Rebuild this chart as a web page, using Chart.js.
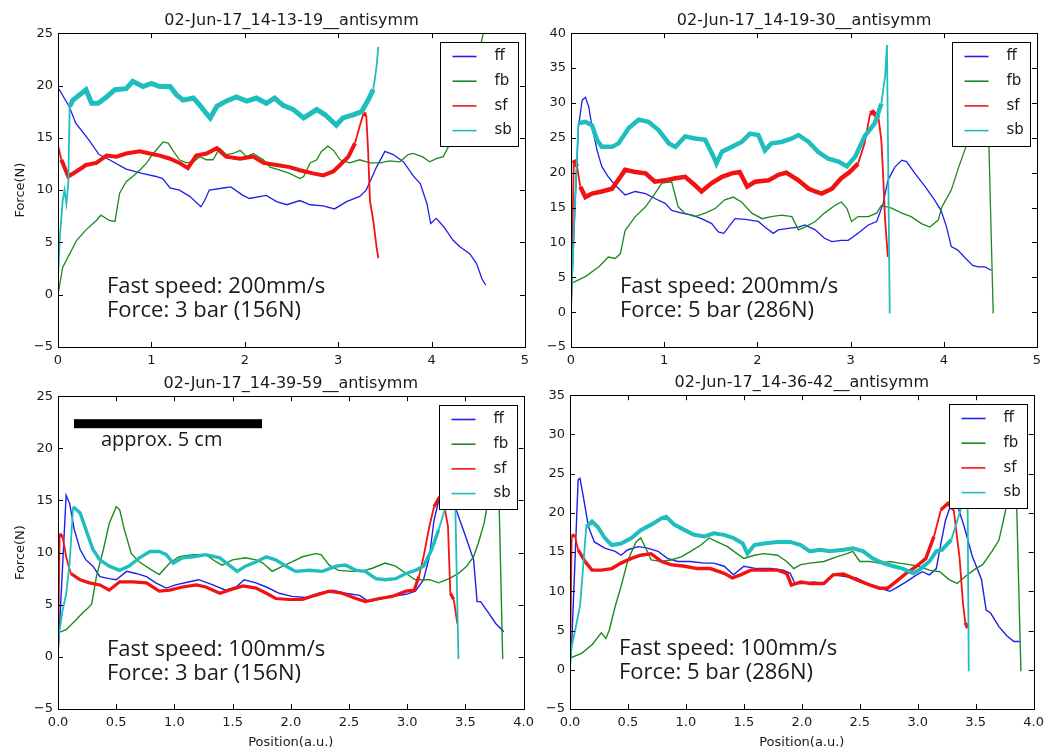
<!DOCTYPE html>
<html>
<head>
<meta charset="utf-8">
<title>antisymm</title>
<script src="https://cdn.jsdelivr.net/npm/chart.js@4.4.1/dist/chart.umd.min.js"></script>
<style>
    html, body { margin: 0; padding: 0; background: #fff; }
    body { width: 1050px; height: 752px; position: relative; overflow: hidden; }
    canvas { position: absolute; }
</style>
</head>
<body>
<canvas id="graficoTL" width="540" height="370" style="left:0;top:0"></canvas>
<canvas id="graficoTR" width="525" height="370" style="left:525px;top:0"></canvas>
<canvas id="graficoBL" width="540" height="389" style="left:0;top:363px"></canvas>
<canvas id="graficoBR" width="525" height="390" style="left:525px;top:362px"></canvas>
<script>
// Ticks de cada eje
const xTicksArriba = [0, 1, 2, 3, 4, 5];
const xTicksAbajo = [0, 0.5, 1, 1.5, 2, 2.5, 3, 3.5, 4];
const yTicksTL = [-5, 0, 5, 10, 15, 20, 25];
const yTicksTR = [-5, 0, 5, 10, 15, 20, 25, 30, 35, 40];
const yTicksBL = [-5, 0, 5, 10, 15, 20, 25];
const yTicksBR = [-5, 0, 5, 10, 15, 20, 25, 30, 35];

const seriesNombres = ['ff', 'fb', 'sf', 'sb'];

// 02-Jun-17_14-13-19 (200mm/s, 3 bar)
const tlFF = [[0,19.8],[0.12,18.0],[0.19,16.4],[0.33,14.8],[0.44,13.4],[0.55,12.9],[0.73,12.0],[0.9,11.6],[1.05,11.3],[1.12,11.1],[1.2,10.2],[1.3,10.0],[1.41,9.4],[1.53,8.4],[1.57,9.0],[1.62,10.0],[1.77,10.2],[1.85,10.3],[1.98,9.5],[2.05,9.2],[2.23,9.5],[2.34,8.9],[2.45,8.6],[2.59,9.0],[2.7,8.6],[2.84,8.5],[2.96,8.2],[3.09,8.9],[3.23,9.4],[3.3,10.0],[3.41,12.2],[3.5,13.7],[3.59,13.4],[3.7,12.7],[3.8,11.4],[3.88,10.6],[3.95,8.7],[3.99,6.8],[4.05,7.3],[4.13,6.5],[4.23,5.2],[4.3,4.6],[4.41,3.9],[4.48,3.0],[4.54,1.5],[4.58,0.9]];
const tlFB = [[0,0],[0.05,2.6],[0.125,3.9],[0.2,5.2],[0.3,6.2],[0.41,7.1],[0.46,7.6],[0.55,7.1],[0.61,7.0],[0.66,9.7],[0.73,10.8],[0.8,11.3],[0.875,11.9],[0.95,12.6],[1.02,13.5],[1.125,14.6],[1.18,14.5],[1.23,13.8],[1.3,12.9],[1.375,12.6],[1.45,12.7],[1.52,13.2],[1.59,12.9],[1.66,12.9],[1.73,14.0],[1.8,13.4],[1.875,13.5],[1.95,13.8],[2.02,13.2],[2.09,13.5],[2.2,12.9],[2.27,12.2],[2.375,11.9],[2.48,11.6],[2.59,11.1],[2.63,11.3],[2.7,12.6],[2.77,12.9],[2.82,13.7],[2.89,14.2],[2.95,13.8],[3.02,12.9],[3.125,12.6],[3.23,12.9],[3.34,12.6],[3.45,12.6],[3.55,12.8],[3.66,12.7],[3.75,13.4],[3.8,13.5],[3.9,13.2],[3.98,12.7],[4.05,13.0],[4.125,13.2],[4.2,14.5],[4.3,17],[4.45,21],[4.58,26]];
const tlSF = [[0,14.3],[0.036,12.9],[0.11,11.3],[0.2,11.8],[0.3,12.4],[0.41,12.6],[0.52,13.3],[0.625,13.2],[0.73,13.5],[0.875,13.7],[0.98,13.5],[1.09,13.3],[1.2,13.0],[1.3,12.6],[1.39,12.1],[1.48,13.3],[1.59,13.5],[1.7,14.0],[1.8,13.2],[1.95,13.0],[2.09,13.2],[2.2,12.6],[2.34,12.4],[2.48,12.2],[2.59,11.9],[2.73,11.6],[2.84,11.4],[2.95,11.8],[3.02,12.4],[3.11,13.2],[3.18,14.5],[3.23,16.1],[3.27,17.3],[3.3,17.2],[3.32,13.8],[3.34,9.0],[3.375,7.1],[3.41,4.6],[3.43,3.5]];
const tlSB = [[0,1.5],[0.02,5.5],[0.05,9.0],[0.07,10.0],[0.09,8.7],[0.11,10.6],[0.125,18.0],[0.16,18.6],[0.23,19.1],[0.3,19.6],[0.36,18.3],[0.43,18.3],[0.52,18.9],[0.61,19.6],[0.73,19.7],[0.8,20.4],[0.91,19.9],[1.0,20.2],[1.09,19.9],[1.2,19.9],[1.27,19.1],[1.34,18.6],[1.45,18.8],[1.52,18.1],[1.59,17.3],[1.63,16.9],[1.7,18.0],[1.8,18.5],[1.91,18.9],[2.02,18.5],[2.125,18.8],[2.23,18.3],[2.32,18.8],[2.41,18.1],[2.52,17.7],[2.63,16.9],[2.77,17.7],[2.86,17.2],[2.98,16.2],[3.05,16.9],[3.16,17.2],[3.25,17.5],[3.32,18.6],[3.375,19.6],[3.39,20.5],[3.41,21.8],[3.43,23.7]];

// 02-Jun-17_14-19-30 (200mm/s, 5 bar)
const trFF = [[0,0.5],[0.046,16.1],[0.08,26.6],[0.12,30.4],[0.154,30.8],[0.19,29.5],[0.225,26.6],[0.28,23.2],[0.33,20.9],[0.4,19.4],[0.475,18.2],[0.58,16.8],[0.69,17.3],[0.8,17.0],[0.9,16.3],[1.01,15.6],[1.08,14.6],[1.19,14.2],[1.3,13.9],[1.4,13.4],[1.51,12.7],[1.58,11.5],[1.64,11.3],[1.69,12.2],[1.76,13.4],[1.87,13.3],[2.01,13.0],[2.08,12.2],[2.17,11.3],[2.225,11.8],[2.33,12.0],[2.44,12.2],[2.51,12.5],[2.62,11.8],[2.72,10.6],[2.8,10.1],[2.9,10.3],[2.975,10.3],[3.08,11.3],[3.19,12.5],[3.28,13.0],[3.35,15.6],[3.4,18.9],[3.475,20.8],[3.55,21.8],[3.6,21.6],[3.69,19.9],[3.8,18.0],[3.9,16.1],[3.97,14.6],[4.03,12.2],[4.08,9.4],[4.15,8.9],[4.22,7.9],[4.31,6.7],[4.37,6.5],[4.44,6.5],[4.51,6.0]];
const trFB = [[0,4.2],[0.03,4.3],[0.154,5.1],[0.3,6.5],[0.4,7.9],[0.475,7.7],[0.53,8.4],[0.58,11.7],[0.69,13.7],[0.8,15.1],[0.9,17.0],[0.975,18.5],[1.08,18.7],[1.15,15.1],[1.22,14.2],[1.33,13.7],[1.44,14.2],[1.55,14.9],[1.65,16.1],[1.74,16.5],[1.83,15.8],[1.94,14.2],[2.05,13.4],[2.15,13.7],[2.26,13.9],[2.37,13.7],[2.44,11.8],[2.51,12.2],[2.62,13.0],[2.72,14.2],[2.83,15.3],[2.9,15.8],[2.96,14.9],[3.01,13.0],[3.08,13.7],[3.19,13.7],[3.28,14.2],[3.33,15.3],[3.44,14.9],[3.55,14.2],[3.65,13.7],[3.76,12.7],[3.85,12.2],[3.94,13.2],[3.98,15.1],[4.08,17.5],[4.16,20.8],[4.25,24.2],[4.35,28],[4.42,29],[4.48,26],[4.53,-0.2]];
const trSF = [[0,0],[0.03,21.8],[0.064,20.9],[0.1,18.0],[0.154,16.5],[0.225,17.0],[0.33,17.3],[0.44,17.7],[0.53,19.4],[0.58,20.4],[0.69,20.1],[0.8,19.9],[0.9,18.7],[1.01,18.9],[1.12,19.2],[1.225,19.4],[1.33,18.2],[1.4,17.3],[1.51,18.5],[1.62,19.4],[1.725,19.9],[1.81,20.1],[1.89,18.0],[1.975,18.7],[2.12,18.9],[2.225,19.7],[2.31,20.0],[2.44,18.9],[2.55,17.7],[2.62,17.3],[2.69,17.0],[2.8,17.7],[2.9,19.2],[2.99,20.1],[3.08,21.3],[3.15,24.2],[3.21,28.5],[3.24,28.7],[3.3,27.8],[3.33,24.6],[3.35,19.4],[3.37,13.2],[3.4,7.9]];
const trSB = [[0,1],[0.02,8],[0.05,18],[0.08,27.1],[0.154,27.3],[0.225,26.8],[0.28,24.7],[0.33,23.7],[0.44,23.7],[0.51,24.2],[0.62,26.4],[0.725,27.6],[0.83,27.3],[0.94,26.1],[1.05,24.2],[1.12,23.7],[1.225,25.2],[1.33,24.9],[1.44,24.7],[1.53,22.3],[1.56,21.3],[1.62,23.0],[1.725,23.7],[1.83,24.4],[1.92,25.6],[2.01,25.4],[2.08,23.2],[2.15,24.2],[2.26,24.4],[2.37,24.9],[2.44,25.4],[2.55,24.4],[2.65,23.0],[2.76,22.0],[2.87,21.6],[2.96,20.9],[3.05,22.3],[3.15,25.2],[3.26,27.1],[3.33,29.9],[3.37,33.8],[3.39,38.3],[3.42,-0.2]];

// 02-Jun-17_14-39-59 (100mm/s, 3 bar)
const blFF = [[0,0],[0.07,15.5],[0.1,14.7],[0.14,12.2],[0.19,10.3],[0.24,9.3],[0.3,8.7],[0.36,7.7],[0.44,7.5],[0.5,7.4],[0.59,8.2],[0.67,8.0],[0.76,7.7],[0.84,7.1],[0.93,6.6],[1.01,6.9],[1.13,7.2],[1.21,7.4],[1.33,6.9],[1.44,6.4],[1.53,6.7],[1.6,7.4],[1.7,7.1],[1.79,6.7],[1.9,6.1],[2.01,5.8],[2.13,5.7],[2.24,6.1],[2.36,6.4],[2.47,6.1],[2.59,5.9],[2.67,5.3],[2.79,5.6],[2.87,5.8],[2.99,6.0],[3.07,6.3],[3.14,7.4],[3.19,9.6],[3.23,13.1],[3.27,15.0],[3.31,16.5],[3.36,16],[3.43,13.8],[3.5,11.6],[3.57,9.3],[3.6,5.3],[3.63,5.3],[3.7,4.2],[3.76,3.2],[3.83,2.4]];
const blFB = [[0,2.3],[0.07,2.6],[0.16,3.6],[0.21,4.2],[0.26,4.7],[0.29,5.1],[0.33,7.7],[0.39,10.3],[0.44,12.8],[0.5,14.4],[0.53,14.1],[0.57,12.2],[0.63,9.9],[0.7,9.1],[0.81,8.3],[0.87,7.9],[0.96,9.0],[1.04,9.6],[1.16,9.8],[1.27,9.8],[1.36,9.1],[1.41,8.8],[1.5,9.3],[1.61,9.5],[1.7,9.3],[1.76,9.0],[1.84,8.2],[1.93,8.7],[2.01,9.1],[2.1,9.6],[2.21,9.9],[2.26,9.8],[2.33,8.8],[2.41,8.3],[2.53,8.2],[2.61,8.2],[2.7,8.5],[2.81,9.0],[2.9,8.7],[2.99,8.0],[3.07,7.4],[3.19,7.4],[3.27,7.1],[3.36,7.5],[3.44,8.0],[3.51,8.7],[3.57,9.6],[3.61,10.9],[3.66,12.8],[3.69,14.7],[3.73,18],[3.77,18],[3.79,14.3],[3.82,-0.2]];
const blSF = [[0,0],[0.014,11.8],[0.04,11.5],[0.07,9.6],[0.11,8.0],[0.19,7.4],[0.27,7.1],[0.36,6.9],[0.44,6.4],[0.53,7.2],[0.64,7.2],[0.76,7.1],[0.87,6.3],[0.96,6.4],[1.07,6.7],[1.19,6.9],[1.27,6.7],[1.39,6.1],[1.47,6.4],[1.59,6.8],[1.7,6.6],[1.79,6.1],[1.87,5.6],[1.99,5.5],[2.1,5.5],[2.21,5.9],[2.33,6.3],[2.44,6.1],[2.56,5.6],[2.64,5.3],[2.76,5.6],[2.87,5.8],[2.99,6.3],[3.06,6.4],[3.1,7.7],[3.14,9.6],[3.19,12.5],[3.23,14.4],[3.27,15.2],[3.31,15.0],[3.35,12.5],[3.37,6.1],[3.4,5.5],[3.43,3.2]];
const blSB = [[0,1.5],[0.04,4.5],[0.07,6.0],[0.1,9],[0.13,14.4],[0.19,13.8],[0.24,12.2],[0.3,10.3],[0.36,9.3],[0.44,8.7],[0.53,8.3],[0.61,8.7],[0.7,9.5],[0.79,10.1],[0.87,10.1],[0.93,9.8],[0.99,9.0],[1.07,9.5],[1.16,9.6],[1.27,9.8],[1.39,9.5],[1.47,8.8],[1.54,8.2],[1.61,8.7],[1.7,9.1],[1.79,9.6],[1.87,9.3],[1.96,8.7],[2.04,8.2],[2.16,8.3],[2.27,8.2],[2.39,8.7],[2.47,8.8],[2.56,8.3],[2.64,8.2],[2.73,7.5],[2.81,7.4],[2.9,7.5],[2.99,8.0],[3.07,8.3],[3.14,8.7],[3.21,10.3],[3.27,12.2],[3.33,14.4],[3.37,16.5],[3.41,16],[3.44,-0.2]];

// 02-Jun-17_14-36-42 (100mm/s, 5 bar)
const brFF = [[0,0.5],[0.014,3],[0.04,12.7],[0.07,24.2],[0.086,24.4],[0.11,22.5],[0.16,18.2],[0.21,16.3],[0.3,15.5],[0.39,15.1],[0.44,14.6],[0.5,15.3],[0.59,15.7],[0.67,15.5],[0.76,15.1],[0.84,14.2],[0.93,13.8],[1.04,13.8],[1.16,13.6],[1.24,13.6],[1.33,13.2],[1.41,12.1],[1.5,13.2],[1.61,12.9],[1.73,12.9],[1.84,12.7],[1.9,12.3],[1.94,11.0],[2.01,11.0],[2.1,11.2],[2.19,11.0],[2.27,12.1],[2.36,11.9],[2.47,11.7],[2.59,10.8],[2.67,10.4],[2.76,10.0],[2.81,10.4],[2.9,11.2],[2.99,12.1],[3.04,12.5],[3.1,12.1],[3.16,12.9],[3.2,16.1],[3.24,19.1],[3.29,21.2],[3.33,21.5],[3.4,18.3],[3.47,14.5],[3.55,11.5],[3.59,7.6],[3.63,7.2],[3.7,5.5],[3.77,4.3],[3.83,3.6],[3.88,3.6]];
const brFB = [[0,1.5],[0.1,2.1],[0.19,3.2],[0.27,4.7],[0.31,4.0],[0.34,5.1],[0.39,8.1],[0.44,10.6],[0.5,14.0],[0.57,16.3],[0.61,16.8],[0.66,15.3],[0.7,14.0],[0.79,13.8],[0.87,14.0],[0.96,14.4],[1.04,15.1],[1.13,15.9],[1.2,16.8],[1.27,16.3],[1.36,15.7],[1.44,14.8],[1.5,14.2],[1.59,14.6],[1.67,14.8],[1.79,14.6],[1.87,13.8],[1.93,12.9],[1.99,13.4],[2.07,13.6],[2.19,13.8],[2.3,14.4],[2.39,14.8],[2.44,15.1],[2.5,13.8],[2.59,13.8],[2.67,13.6],[2.76,13.8],[2.84,13.6],[2.93,13.4],[3.01,13.2],[3.1,12.7],[3.19,12.5],[3.27,11.5],[3.34,11.0],[3.41,11.9],[3.5,12.9],[3.56,13.4],[3.64,15.1],[3.7,16.5],[3.74,19.1],[3.77,21.2],[3.81,24],[3.85,23],[3.89,-0.2]];
const brSF = [[0,0],[0.014,17.0],[0.04,17.2],[0.07,15.3],[0.13,13.8],[0.19,12.7],[0.27,12.7],[0.36,12.9],[0.44,13.6],[0.53,14.2],[0.61,14.6],[0.7,14.8],[0.79,13.8],[0.87,13.4],[0.99,13.2],[1.1,12.9],[1.21,12.9],[1.33,12.3],[1.4,11.7],[1.47,12.1],[1.56,12.7],[1.67,12.7],[1.79,12.7],[1.87,12.3],[1.91,10.8],[1.99,11.2],[2.07,11.0],[2.19,11.0],[2.27,12.1],[2.36,12.2],[2.47,11.5],[2.59,10.8],[2.67,10.4],[2.74,10.4],[2.81,11.2],[2.9,12.3],[2.99,13.2],[3.07,14.2],[3.14,17.0],[3.2,20.4],[3.26,21.2],[3.31,20.4],[3.36,14.4],[3.39,8.5],[3.41,6.0],[3.43,5.3]];
const brSB = [[0,0.5],[0.014,3.0],[0.04,4.7],[0.086,8.1],[0.1,10.6],[0.14,18.2],[0.19,18.9],[0.24,18.2],[0.3,16.8],[0.36,15.9],[0.44,16.1],[0.53,16.8],[0.61,17.8],[0.7,18.5],[0.79,19.3],[0.83,19.5],[0.9,18.5],[0.99,17.8],[1.07,17.2],[1.16,17.0],[1.24,17.4],[1.33,17.2],[1.41,16.8],[1.49,16.1],[1.53,14.8],[1.59,15.9],[1.67,16.1],[1.79,16.3],[1.9,16.3],[1.99,15.9],[2.07,15.1],[2.16,15.3],[2.24,15.1],[2.36,15.3],[2.44,15.5],[2.53,15.1],[2.61,14.2],[2.7,13.6],[2.79,13.2],[2.87,12.9],[2.96,12.3],[3.01,12.7],[3.1,13.8],[3.16,15.1],[3.21,15.3],[3.29,16.6],[3.33,18.5],[3.37,20.4],[3.4,22],[3.43,22],[3.44,-0.2]];

const colores = ['#1f1fe8', '#1d8a1d', '#f21212', '#1fbebe'];
const TEXTO = '#1a1a1a';

Chart.defaults.font.family = "'DejaVu Sans', sans-serif";
Chart.defaults.color = TEXTO;

/**
 * Marco, ticks hacia dentro, leyenda y notas de texto
 */
const marcoPlugin = {
    id: 'marco',
    afterDatasetsDraw(chart, args, opts) {
        const ctx = chart.ctx;
        const a = chart.chartArea;
        const xs = chart.scales.x;
        const ys = chart.scales.y;
        ctx.save();

        // ticks estilo matplotlib
        ctx.strokeStyle = '#000';
        ctx.lineWidth = 1;
        ctx.beginPath();
        xs.ticks.forEach(t => {
            const px = Math.round(xs.getPixelForValue(t.value)) + 0.5;
            ctx.moveTo(px, a.bottom); ctx.lineTo(px, a.bottom - 5);
            ctx.moveTo(px, a.top); ctx.lineTo(px, a.top + 5);
        });
        ys.ticks.forEach(t => {
            const py = Math.round(ys.getPixelForValue(t.value)) + 0.5;
            ctx.moveTo(a.left, py); ctx.lineTo(a.left + 5, py);
            ctx.moveTo(a.right, py); ctx.lineTo(a.right - 5, py);
        });
        ctx.stroke();
        ctx.strokeRect(Math.round(a.left) + 0.5, Math.round(a.top) + 0.5,
            Math.round(a.right - a.left), Math.round(a.bottom - a.top));

        // notas
        ctx.fillStyle = TEXTO;
        ctx.textBaseline = 'alphabetic';
        ctx.textAlign = 'left';
        ctx.font = "22px 'Open Sans'";
        ctx.fillText(opts.nota[0], a.left + 49, a.top + 260);
        ctx.fillText(opts.nota[1], a.left + 49, a.top + 284);

        if (opts.escala) {
            ctx.fillStyle = '#000';
            ctx.fillRect(a.left + 16, a.top + 23, 188, 9);
            ctx.fillStyle = TEXTO;
            ctx.font = "20px 'Open Sans'";
            ctx.fillText('approx. 5 cm', a.left + 43, a.top + 50);
        }

        // leyenda
        const bw = 78, bh = 104;
        const bx = Math.round(a.right - 7 - bw) + 0.5;
        const by = Math.round(a.top + 9) + 0.5;
        ctx.fillStyle = '#fff';
        ctx.fillRect(bx, by, bw, bh);
        ctx.strokeStyle = '#000';
        ctx.strokeRect(bx, by, bw, bh);
        ctx.font = "15px 'DejaVu Sans'";
        ctx.textBaseline = 'middle';
        chart.data.datasets.forEach((ds, i) => {
            const ly = by + 14 + i * 24.7;
            ctx.strokeStyle = ds.borderColor;
            ctx.lineWidth = 1.6;
            ctx.beginPath();
            ctx.moveTo(bx + 12, ly);
            ctx.lineTo(bx + 36, ly);
            ctx.stroke();
            ctx.fillStyle = TEXTO;
            ctx.fillText(ds.label, bx + 54, ly);
        });
        ctx.restore();
    }
};

const paneles = [
    { id: 'graficoTL', titulo: '02-Jun-17_14-13-19__antisymm', series: [tlFF, tlFB, tlSF, tlSB],
      xTicks: xTicksArriba, yTicks: yTicksTL, grosor: [1.3, 1.3, 4, 5], yAncho: 58, xAlto: 23, padDer: 15,
      yTitulo: true, xTitulo: false, decimales: 0, nota: ['Fast speed: 200mm/s', 'Force: 3 bar (156N)'], escala: false },
    { id: 'graficoTR', titulo: '02-Jun-17_14-19-30__antisymm', series: [trFF, trFB, trSF, trSB],
      xTicks: xTicksArriba, yTicks: yTicksTR, grosor: [1.3, 1.3, 4.5, 4.5], yAncho: 46, xAlto: 23, padDer: 13,
      yTitulo: false, xTitulo: false, decimales: 0, nota: ['Fast speed: 200mm/s', 'Force: 5 bar (286N)'], escala: false },
    { id: 'graficoBL', titulo: '02-Jun-17_14-39-59__antisymm', series: [blFF, blFB, blSF, blSB],
      xTicks: xTicksAbajo, yTicks: yTicksBL, grosor: [1.4, 1.4, 3.2, 3.4], yAncho: 58, xAlto: 43, padDer: 15,
      yTitulo: true, xTitulo: true, decimales: 1, nota: ['Fast speed: 100mm/s', 'Force: 3 bar (156N)'], escala: true },
    { id: 'graficoBR', titulo: '02-Jun-17_14-36-42__antisymm', series: [brFF, brFB, brSF, brSB],
      xTicks: xTicksAbajo, yTicks: yTicksBR, grosor: [1.4, 1.4, 3.4, 4], yAncho: 45, xAlto: 43, padDer: 13,
      yTitulo: false, xTitulo: true, decimales: 1, nota: ['Fast speed: 100mm/s', 'Force: 5 bar (286N)'], escala: false }
];

/**
 * Tramos casi verticales: sin ruido, se dibujan finos
 */
function grosorTramo(c) {
    const dx = Math.abs(c.p1.x - c.p0.x);
    const dy = Math.abs(c.p1.y - c.p0.y);
    return (dy > 3 * dx && dy > 6) ? 1.8 : undefined;
}

/**
 * Crea un subgrafico
 */
function crearPanel(p) {
    const ctx = document.getElementById(p.id).getContext('2d');
    const xs = p.xTicks, ys = p.yTicks;
    return new Chart(ctx, {
        type: 'line',
        data: {
            datasets: p.series.map((s, i) => ({
                label: seriesNombres[i],
                data: s,
                borderColor: colores[i],
                borderWidth: p.grosor[i],
                segment: p.grosor[i] > 2 ? { borderWidth: grosorTramo } : {},
                pointRadius: 0,
                tension: 0,
                fill: false,
                order: 3 - i,
                clip: 0
            }))
        },
        options: {
            responsive: false,
            animation: false,
            devicePixelRatio: 1,
            layout: { padding: { left: 0, right: p.padDer, top: 0, bottom: 0 } },
            plugins: {
                legend: { display: false },
                tooltip: { enabled: false },
                title: {
                    display: true,
                    text: p.titulo,
                    fullSize: false,
                    color: TEXTO,
                    font: { size: 16, weight: 'normal' },
                    padding: { top: 11, bottom: 3 }
                },
                marco: { nota: p.nota, escala: p.escala }
            },
            scales: {
                x: {
                    type: 'linear',
                    min: xs[0],
                    max: xs[xs.length - 1],
                    grid: { display: false, drawTicks: false },
                    border: { display: false },
                    afterBuildTicks: s => { s.ticks = xs.map(v => ({ value: v })); },
                    afterFit: s => { s.height = p.xAlto; },
                    ticks: {
                        padding: 6,
                        maxRotation: 0,
                        autoSkip: false,
                        color: TEXTO,
                        font: { size: 13 },
                        callback: v => v.toFixed(p.decimales)
                    },
                    title: {
                        display: p.xTitulo,
                        text: 'Position(a.u.)',
                        color: TEXTO,
                        font: { size: 13 },
                        padding: { top: 0, bottom: 2 }
                    }
                },
                y: {
                    type: 'linear',
                    min: ys[0],
                    max: ys[ys.length - 1],
                    grid: { display: false, drawTicks: false },
                    border: { display: false },
                    afterBuildTicks: s => { s.ticks = ys.map(v => ({ value: v })); },
                    afterFit: s => { s.width = p.yAncho; },
                    ticks: {
                        padding: 5,
                        autoSkip: false,
                        color: TEXTO,
                        font: { size: 13 },
                        callback: v => String(v).replace('-', '\u2212')
                    },
                    title: {
                        display: p.yTitulo,
                        text: 'Force(N)',
                        color: TEXTO,
                        font: { size: 13 },
                        padding: { top: 13, bottom: 0 }
                    }
                }
            }
        },
        plugins: [marcoPlugin]
    });
}

paneles.forEach(crearPanel);
</script>
</body>
</html>
